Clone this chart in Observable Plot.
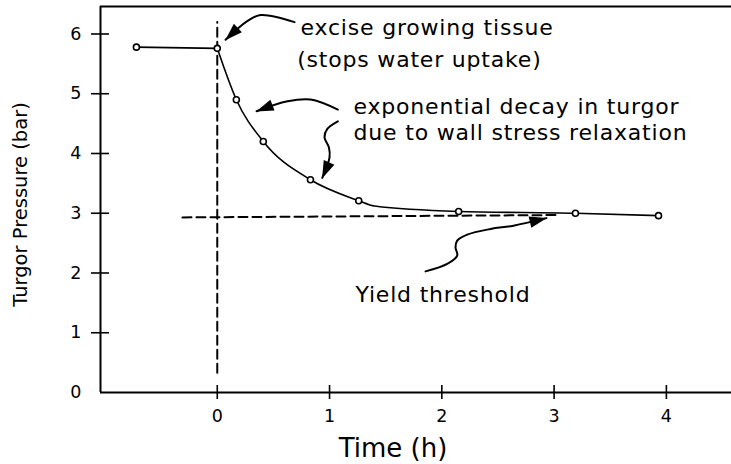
<!DOCTYPE html>
<html><head><meta charset="utf-8">
<script src="https://cdn.jsdelivr.net/npm/d3@7"></script>
<script src="https://cdn.jsdelivr.net/npm/@observablehq/plot@0.6"></script>
<style>
body{margin:0;background:#fff}
svg{display:block}
.annot text{letter-spacing:0.8px}
svg g[aria-label="y-axis tick label"], svg g[aria-label="x-axis tick label"]{font-size:17.5px}
</style>
</head><body><div id="chart"></div>
<script>
// measured points (time in h, turgor in bar)
const timeH  = [-0.72, 0, 0.17, 0.41, 0.83, 1.26, 2.15, 3.19, 3.93];
const turgor = [5.78, 5.76, 4.90, 4.20, 3.56, 3.21, 3.03, 3.00, 2.96];
// hand-drawn line before excision and decay curve
const flatT = [-0.72, 0];
const flatP = [5.78, 5.76];
const curveT = [0, 0.17, 0.41, 0.83, 1.26, 1.40, 2.15, 3.19, 3.93];
const curveP = [5.76, 4.90, 4.20, 3.56, 3.21, 3.12, 3.03, 3.00, 2.96];
// dashed guides
const excisionT = [0, 0];
const excisionP = [0.33, 6.2];
const yieldT = [-0.31, 3.05];
const yieldP = [2.93, 2.97];
// axes
const xDomain = [-1.04, 4.58];
const yDomain = [0, 6.46];
const xTicks = [0, 1, 2, 3, 4];
const yTickMarks = [1, 2, 3, 4, 5, 6];
const yTickLabels = [0, 1, 2, 3, 4, 5, 6];
// annotations
const labels = ["excise growing tissue", "(stops water uptake)", "exponential decay in turgor", "due to wall stress relaxation", "Yield threshold"];
const labelT = [0.742, 0.712, 1.214, 1.214, 1.231];
const labelP = [6.109, 5.56, 4.771, 4.342, 1.631];
// annotation arrows (paths, last point = tip)
const arrowExciseT = [0.688, 0.386, 0.267, 0.074];
const arrowExciseP = [6.198, 6.318, 6.214, 5.903];
const arrowDecayLeftT = [1.074, 0.831, 0.626, 0.350];
const arrowDecayLeftP = [4.735, 4.903, 4.875, 4.707];
const arrowDecayDownT = [1.074, 0.980, 0.955, 0.994, 1.000, 0.935];
const arrowDecayDownP = [4.539, 4.412, 4.271, 4.104, 3.936, 3.591];
const arrowYieldT = [1.855, 2.048, 2.137, 2.122, 2.137, 2.226, 2.434, 2.638, 2.932];
const arrowYieldP = [2.027, 2.151, 2.290, 2.429, 2.541, 2.642, 2.737, 2.792, 2.918];

function arrowHead(color, context) {
  const doc = (context && context.document) || document;
  const ns = "http://www.w3.org/2000/svg";
  const m = doc.createElementNS(ns, "marker");
  m.setAttribute("viewBox", "-19 -8 20 16");
  m.setAttribute("markerWidth", 20);
  m.setAttribute("markerHeight", 16);
  m.setAttribute("markerUnits", "userSpaceOnUse");
  m.setAttribute("refX", 0);
  m.setAttribute("refY", 0);
  m.setAttribute("orient", "auto");
  const p = doc.createElementNS(ns, "path");
  p.setAttribute("d", "M0.5,0L-17,-5.8L-17,5.8Z");
  p.setAttribute("fill", "black");
  p.setAttribute("stroke", "none");
  m.appendChild(p);
  return m;
}

const arrowLine = (T, P) => Plot.line(T, {x: T, y: P, curve: "catmull-rom", stroke: "black", strokeWidth: 2, markerEnd: arrowHead});
const fmt = d => String(d);

const chart = Plot.plot({
  width: 731,
  height: 464,
  marginLeft: 100,
  marginRight: 0,
  marginTop: 6,
  marginBottom: 72,
  style: {fontFamily: "DejaVu Sans", background: "white", color: "black"},
  x: {domain: xDomain},
  y: {domain: yDomain},
  marks: [
    Plot.ruleY([yDomain[0], yDomain[1]], {stroke: "black", strokeWidth: 2}),
    Plot.ruleX([xDomain[0]], {stroke: "black", strokeWidth: 2}),
    Plot.axisY({ticks: yTickMarks, tickSize: 18, dx: 9, tickFormat: () => "", strokeWidth: 1.6, label: null}),
    Plot.axisY({ticks: yTickLabels, tickSize: 0, tickPadding: 19, fontSize: 17.5, tickFormat: fmt, label: null}),
    Plot.axisX({ticks: xTicks, tickSize: 14, dy: -7, tickFormat: () => "", strokeWidth: 1.6, label: null}),
    Plot.axisX({ticks: xTicks, tickSize: 0, tickPadding: 17, fontSize: 17.5, tickFormat: fmt, label: null}),
    Plot.line(excisionT, {x: excisionT, y: excisionP, stroke: "black", strokeWidth: 2, strokeDasharray: "9,5"}),
    Plot.line(yieldT, {x: yieldT, y: yieldP, stroke: "black", strokeWidth: 2, strokeDasharray: "9,5"}),
    Plot.line(flatT, {x: flatT, y: flatP, stroke: "black", strokeWidth: 1.6}),
    Plot.line(curveT, {x: curveT, y: curveP, stroke: "black", strokeWidth: 1.6, curve: "monotone-x"}),
    Plot.dot(timeH, {x: timeH, y: turgor, r: 3, fill: "white", stroke: "black", strokeWidth: 1.6}),
    arrowLine(arrowExciseT, arrowExciseP),
    arrowLine(arrowDecayLeftT, arrowDecayLeftP),
    arrowLine(arrowDecayDownT, arrowDecayDownP),
    arrowLine(arrowYieldT, arrowYieldP),
    Plot.text(labels, {x: labelT, y: labelP, text: labels, textAnchor: "start", lineAnchor: "middle", fontSize: 22, fill: "black", className: "annot"}),
    Plot.text(["Turgor Pressure (bar)"], {frameAnchor: "left", dx: -80, dy: 5, rotate: -90, textAnchor: "middle", lineAnchor: "middle", fontSize: 19.5, fill: "black"}),
    Plot.text(["Time (h)"], {frameAnchor: "bottom", dx: -23, dy: 56, textAnchor: "middle", lineAnchor: "middle", fontSize: 26, fill: "black"})
  ]
});
document.getElementById("chart").appendChild(chart);
</script>
</body></html>
